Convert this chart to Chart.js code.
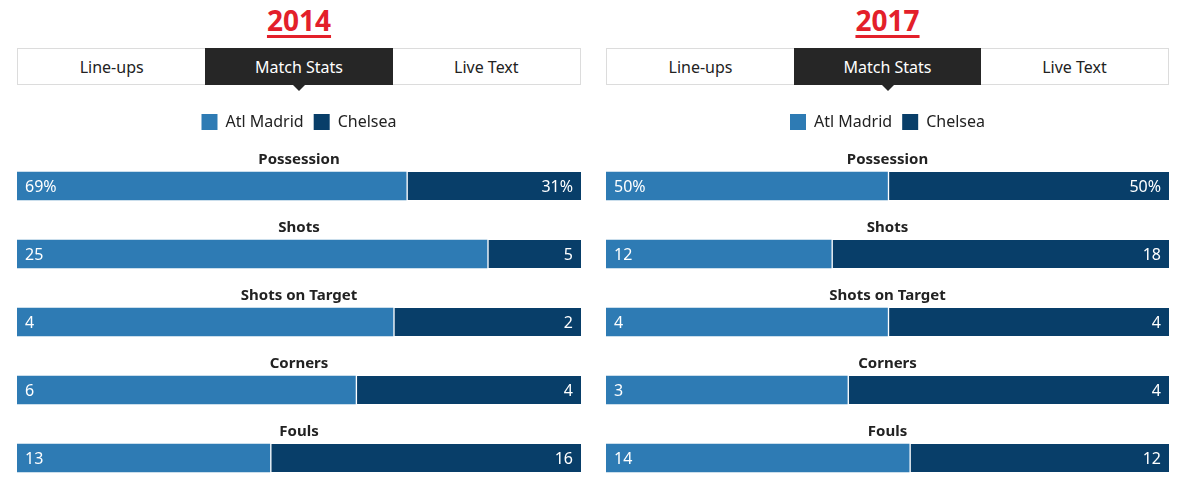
<!DOCTYPE html>
<html lang="en">
<head>
  <meta charset="UTF-8">
  <title>Atletico Madrid v Chelsea - Match Stats</title>
  <script src="https://cdn.jsdelivr.net/npm/chart.js"></script>
  <style>
    html, body { margin: 0; padding: 0; background: #fff; }
    body { width: 1191px; height: 491px; overflow: hidden; position: relative; font-family: "Noto Sans", Arial, sans-serif; color: #222; }
    .panel { position: absolute; top: 0; height: 491px; }
    .year { position: absolute; top: 0; left: 0; right: 0; height: 42px; text-align: center; margin: 0;
            font-size: 28px; font-weight: bold; line-height: 40px; color: #e3202a;
            text-decoration: underline; text-decoration-thickness: 3px; text-underline-offset: 4px; }
    .tabs { position: absolute; top: 48px; left: 0; right: 0; height: 35px; border: 1px solid #dcdcdc; display: flex; }
    .tab { flex: 1; text-align: center; line-height: 37px; font-size: 16px; color: #222; }
    .tab.active { background: #262626; color: #fff; margin: -1px 0; line-height: 39px; position: relative; }
    .tab.active:after { content: ""; position: absolute; left: 50%; bottom: -6px; margin-left: -6px;
            border-left: 6px solid transparent; border-right: 6px solid transparent; border-top: 6px solid #262626; }
    canvas { position: absolute; top: 91px; left: 0; }
  </style>
</head>
<body>
  <div class="panel" id="p2014" style="left:17px;width:564px;">
    <h2 class="year">2014</h2>
    <div class="tabs"><div class="tab">Line-ups</div><div class="tab active">Match Stats</div><div class="tab">Live Text</div></div>
    <canvas id="chart2014" width="564" height="412"></canvas>
  </div>
  <div class="panel" id="p2017" style="left:606px;width:563px;">
    <h2 class="year">2017</h2>
    <div class="tabs"><div class="tab">Line-ups</div><div class="tab active">Match Stats</div><div class="tab">Live Text</div></div>
    <canvas id="chart2017" width="563" height="412"></canvas>
  </div>

  <script>
    const categories = ['Possession', 'Shots', 'Shots on Target', 'Corners', 'Fouls'];
    const units = ['%', '', '', '', ''];
    const teams = ['Atl Madrid', 'Chelsea'];
    const teamColours = ['#2e7bb4', '#083e69'];

    const atl2014 = [69, 25, 4, 6, 13];
    const che2014 = [31, 5, 2, 4, 16];
    const atl2017 = [50, 12, 4, 3, 14];
    const che2017 = [50, 18, 4, 4, 12];

    // extra room under the legend
    const legendGap = {
      id: 'legendGap',
      beforeInit(chart) {
        const fit = chart.legend.fit;
        chart.legend.fit = function () {
          fit.call(this);
          this.height += 12;
        };
      }
    };

    // stat name above each bar, raw numbers inside the bars
    const statLabels = {
      id: 'statLabels',
      afterDatasetsDraw(chart) {
        const ctx = chart.ctx;
        const area = chart.chartArea;
        const yScale = chart.scales.y;
        const raw = chart.options.plugins.statLabels.raw;
        ctx.save();
        ctx.textBaseline = 'middle';
        categories.forEach((cat, i) => {
          const y = yScale.getPixelForValue(i);
          ctx.fillStyle = '#222';
          ctx.font = 'bold 15px "Noto Sans"';
          ctx.textAlign = 'center';
          ctx.fillText(cat, (area.left + area.right) / 2, y - 26);
          ctx.fillStyle = '#fff';
          ctx.font = '16px "Noto Sans"';
          ctx.textAlign = 'left';
          ctx.fillText(raw[0][i] + units[i], area.left + 8, y + 1);
          ctx.textAlign = 'right';
          ctx.fillText(raw[1][i] + units[i], area.right - 8, y + 1);
        });
        ctx.restore();
      }
    };

    function share(a, b) {
      return a.map((v, i) => v / (v + b[i]) * 100);
    }

    function makeChart(id, atl, che) {
      new Chart(document.getElementById(id), {
        type: 'bar',
        data: {
          labels: categories,
          datasets: [
            { label: teams[0], data: share(atl, che), backgroundColor: teamColours[0], borderWidth: 0 },
            { label: teams[1], data: share(che, atl), backgroundColor: teamColours[1],
              borderColor: '#fff', borderWidth: { left: 2, top: 0, right: 0, bottom: 0 }, borderSkipped: false }
          ]
        },
        options: {
          indexAxis: 'y',
          responsive: false,
          animation: false,
          barThickness: 28,
          layout: { padding: { top: 13, bottom: 11, left: 0, right: 0 } },
          scales: {
            x: { stacked: true, min: 0, max: 100, display: false },
            y: { stacked: true, display: false }
          },
          plugins: {
            tooltip: { enabled: false },
            legend: {
              position: 'top',
              labels: {
                boxWidth: 16, boxHeight: 16, padding: 10, color: '#222',
                font: { family: '"Noto Sans"', size: 16 },
                generateLabels(chart) {
                  return Chart.defaults.plugins.legend.labels.generateLabels(chart)
                    .map(l => Object.assign(l, { lineWidth: 0, strokeStyle: l.fillStyle }));
                }
              }
            },
            statLabels: { raw: [atl, che] }
          }
        },
        plugins: [legendGap, statLabels]
      });
    }

    makeChart('chart2014', atl2014, che2014);
    makeChart('chart2017', atl2017, che2017);
  </script>
</body>
</html>
